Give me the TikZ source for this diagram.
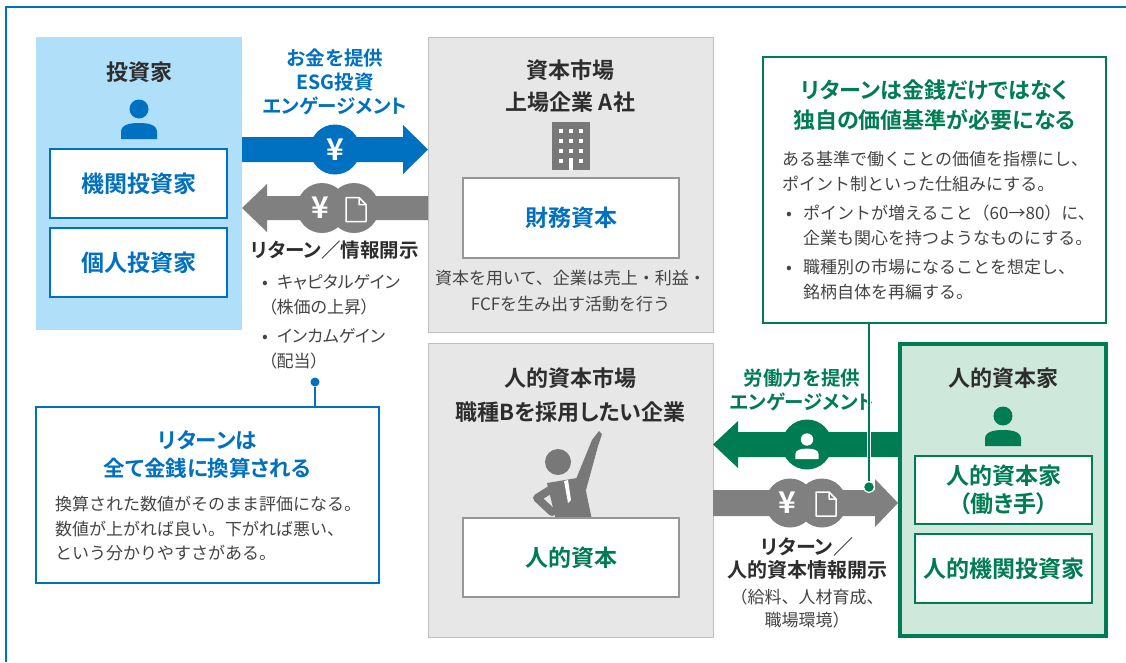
\documentclass[tikz,border=0pt]{standalone}
\usepackage{fontspec}
\setmainfont{Noto Sans CJK JP}[BoldFont={Noto Sans CJK JP Bold}, RawFeature=+palt]
\newfontfamily\bodyjp{Noto Sans CJK JP}
\usepackage{xcolor}
\usetikzlibrary{positioning, calc}

\definecolor{mainBlue}{RGB}{0, 112, 192}
\definecolor{paleBlue}{RGB}{176, 223, 250}
\definecolor{mainGreen}{RGB}{0, 124, 82}
\definecolor{paleGreen}{RGB}{206, 232, 219}
\definecolor{panelGray}{RGB}{231, 231, 231}
\definecolor{panelEdge}{RGB}{190, 190, 190}
\definecolor{boxEdge}{RGB}{150, 150, 150}
\definecolor{arrowGray}{RGB}{128, 128, 128}
\definecolor{iconGray}{RGB}{120, 120, 120}
\definecolor{textDark}{RGB}{45, 45, 45}
\definecolor{textBody}{RGB}{68, 68, 68}

\tikzset{
  panel/.style={
    rectangle, draw=panelEdge, fill=panelGray, line width=1pt
  },
  invpanel/.style={
    rectangle, fill=paleBlue
  },
  hcpanel/.style={
    rectangle, draw=mainGreen, fill=paleGreen, line width=4pt
  },
  capbox/.style={
    rectangle, fill=white, line width=1.6pt, inner sep=0pt,
    align=center, font=\fontsize{23}{28}\selectfont\bfseries
  },
  heading/.style={
    inner sep=0pt, align=center, text=textDark,
    font=\fontsize{22}{32}\selectfont\bfseries
  },
  flowlabel/.style={
    inner sep=0pt, align=center,
    font=\fontsize{19.5}{24}\selectfont\bfseries
  },
  bodytext/.style={
    inner sep=0pt, align=left, text=textBody,
    font=\bodyjp\fontsize{17}{25}\selectfont
  },
  callout/.style={
    rectangle, fill=white, line width=1.5pt
  },
  yenmark/.style={
    inner sep=0pt, text=white,
    font=\fontsize{30}{30}\selectfont\bfseries
  },
  person/.pic={
    \fill (0,-10) circle (9.5);
    \fill (-18,20) -- (-18,13) .. controls (-18,6) and (-10,4) .. (0,4)
      .. controls (10,4) and (18,6) .. (18,13) -- (18,20) -- cycle;
  },
  docmark/.pic={
    \draw[white, line width=1.5pt, line join=round]
      (-10,-12) -- (3,-12) -- (10,-5) -- (10,12) -- (-10,12) -- cycle
      (3,-12) -- (3,-5) -- (10,-5);
  }
}

\begin{document}
\begin{tikzpicture}[x=1pt, y=-1pt]

  \useasboundingbox (0,0) rectangle (1126,662);
  \fill[white] (0,0) rectangle (1126,662);
  \draw[mainBlue, line width=2pt] (6,662) -- (6,7) -- (1126,7);

  % investors
  \node[invpanel, minimum width=206, minimum height=293] (inv) at (139,183.5) {};
  \node[heading] (invT) at (139,72) {投資家};
  \pic[mainBlue] at (139,119) {person};
  \node[capbox, draw=mainBlue, text=mainBlue, minimum width=177, minimum height=69]
    (instInv) at (138.5,183.5) {機関投資家};
  \node[capbox, draw=mainBlue, text=mainBlue, minimum width=177, minimum height=69]
    (indInv) at (138.5,262.5) {個人投資家};

  % capital market
  \node[panel, minimum width=285, minimum height=295] (cap) at (570.5,184.5) {};
  \node[heading] (capT) at (570.5,86) {資本市場\\上場企業 A社};
  \fill[iconGray] (552,122) rectangle (590,170);
  \foreach \cx in {561,571,581}
    \foreach \cy in {131,141,151}
      \fill[white] (\cx-2.2,\cy-2.2) rectangle ++(4.4,4.4);
  \foreach \cx in {561,581}
    \fill[white] (\cx-2.2,158.8) rectangle ++(4.4,4.4);
  \fill[white] (569,158) rectangle (573,170);
  \node[capbox, draw=boxEdge, text=mainBlue, minimum width=216, minimum height=80]
    (fin) at (571,218) {財務資本};
  \node[bodytext, align=center, font=\bodyjp\fontsize{17}{26}\selectfont] (capB) at (570.5,291.5)
    {資本を用いて、企業は売上・利益・\\FCFを生み出す活動を行う};

  % human capital market
  \node[panel, minimum width=285, minimum height=294] (hcm) at (570.5,490) {};
  \node[heading, font=\fontsize{22}{34}\selectfont\bfseries] (hcmT) at (570.5,395)
    {人的資本市場\\職種Bを採用したい企業};
  \fill[iconGray] (558,462) circle (13);
  \fill[iconGray] (574,484) -- (592,440) -- (599,431) -- (602,434) -- (598,446)
    -- (586,490) -- cycle;
  \fill[iconGray] (547,483) -- (583,477) -- (592,520) -- (556,520) -- cycle;
  \draw[iconGray, line width=8pt, line cap=round, line join=round]
    (553,488) -- (537,498) -- (552,512);
  \fill[white] (564,481) -- (568,480) -- (571,500) -- (568,503) -- cycle;
  \node[capbox, draw=boxEdge, text=mainGreen, minimum width=216, minimum height=79]
    (hcap) at (571,557.5) {人的資本};

  % human capitalists
  \node[hcpanel, minimum width=206, minimum height=292] (hcp) at (1003,490) {};
  \node[heading] (hcpT) at (1003,378) {人的資本家};
  \pic[mainGreen] at (1003,426) {person};
  \node[capbox, draw=mainGreen, text=mainGreen, minimum width=177, minimum height=68]
    (worker) at (1003.5,490) {人的資本家\\（働き手）};
  \node[capbox, draw=mainGreen, text=mainGreen, minimum width=177, minimum height=69]
    (hcInv) at (1003.5,568.5) {人的機関投資家};

  % money in, returns out
  \node[flowlabel, text=mainBlue] (giveT) at (335,82) {お金を提供\\ESG投資\\エンゲージメント};
  \fill[mainBlue] (242,137) -- (403,137) -- (403,125) -- (428,149.5)
    -- (403,174) -- (403,162) -- (242,162) -- cycle;
  \fill[mainBlue] (335,149.5) circle (25);
  \node[yenmark] (yenA) at (335,149.5) {¥};

  \fill[arrowGray] (428,196) -- (267,196) -- (267,184) -- (242,208)
    -- (267,232) -- (267,220) -- (428,220) -- cycle;
  \fill[arrowGray] (322,208) circle (25) (354,208) circle (25);
  \node[yenmark] (yenB) at (320,208) {¥};
  \pic at (356,209.5) {docmark};
  \node[flowlabel, text=textDark] (retT) at (335,250) {リターン／情報開示};
  \node[bodytext, anchor=west, font=\fontsize{17}{25}\selectfont] (retB) at (262,322)
    {\makebox[15pt][l]{•}キャピタルゲイン\\\hspace*{6pt}（株価の上昇）\\[4pt]
     \makebox[15pt][l]{•}インカムゲイン\\\hspace*{6pt}（配当）};

  % labour in, returns out
  \node[flowlabel, text=mainGreen] (laborT) at (802,390) {労働力を提供\\エンゲージメント};
  \fill[mainGreen] (900,432) -- (738,432) -- (738,421) -- (713,444.5)
    -- (738,468) -- (738,457) -- (900,457) -- cycle;
  \fill[mainGreen] (807,444.5) circle (25);
  \pic[white, scale=0.65] at (807,446) {person};

  \fill[arrowGray] (713,490) -- (875,490) -- (875,479) -- (898,503)
    -- (875,527) -- (875,516) -- (713,516) -- cycle;
  \fill[arrowGray] (790,503) circle (24.5) (822,503) circle (24.5);
  \node[yenmark] (yenC) at (787,503) {¥};
  \pic at (826,504) {docmark};
  \node[flowlabel, text=textDark, font=\fontsize{20}{23}\selectfont\bfseries]
    (hretT) at (807,558.5) {リターン／\\人的資本情報開示};
  \node[bodytext, align=center, font=\bodyjp\fontsize{17}{23}\selectfont]
    (hretB) at (807,608.5) {（給料、人材育成、\\職場環境）};

  % callouts
  \node[callout, draw=mainBlue, minimum width=343, minimum height=176] (callB) at (207.5,495) {};
  \node[heading, text=mainBlue, font=\fontsize{21.5}{28}\selectfont\bfseries]
    (callBT) at (207.5,454) {リターンは\\全て金銭に換算される};
  \node[bodytext, anchor=west, font=\bodyjp\fontsize{17}{24.5}\selectfont] (callBB) at (55,529)
    {換算された数値がそのまま評価になる。\\数値が上がれば良い。下がれば悪い、\\という分かりやすさがある。};
  \node[circle, fill=mainBlue, minimum size=9, inner sep=0pt] (dotB) at (315,382) {};
  \draw[mainBlue, line width=1.5pt] (dotB) -- (dotB |- callB.north);

  \node[callout, draw=mainGreen, minimum width=343, minimum height=266] (callG) at (934.5,190) {};
  \node[heading, text=mainGreen, font=\fontsize{22}{30}\selectfont\bfseries]
    (callGT) at (934.5,105) {リターンは金銭だけではなく\\独自の価値基準が必要になる};
  \node[bodytext, anchor=west] (callGB) at (782,225.5)
    {ある基準で働くことの価値を指標にし、\\ポイント制といった仕組みにする。\\[4pt]
     \makebox[21pt][l]{\hspace{4pt}•}ポイントが増えること（60→80）に、\\
     \hspace*{21pt}企業も関心を持つようなものにする。\\[4pt]
     \makebox[21pt][l]{\hspace{4pt}•}職種別の市場になることを想定し、\\
     \hspace*{21pt}銘柄自体を再編する。};
  \node[circle, fill=mainGreen, draw=white, line width=1.2pt, minimum size=11, inner sep=0pt]
    (dotG) at (869,487) {};
  \draw[white, line width=4.5pt] ($(callG.south -| dotG)+(0,20)$) -- (dotG.north);
  \draw[mainGreen, line width=1.5pt] (callG.south -| dotG) -- (dotG.north);

\end{tikzpicture}
\end{document}
